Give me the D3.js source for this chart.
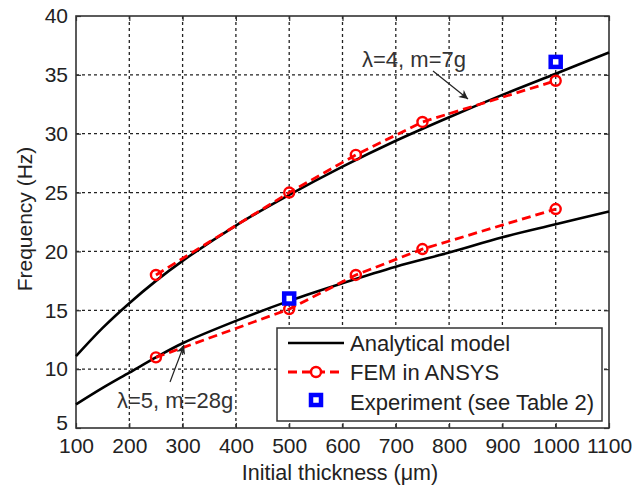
<!DOCTYPE html>
<html>
<head>
<meta charset="utf-8">
<script src="https://cdn.jsdelivr.net/npm/d3@7"></script>
<style>
  html, body { margin: 0; padding: 0; background: #fff; }
  svg { display: block; font-family: "Liberation Sans", Arial, sans-serif; }
</style>
</head>
<body>
<svg id="chart" width="636" height="491"></svg>
<script>
// Thickness grid for the analytical curves (µm)
const thicknessModel = [100, 150, 200, 250, 300, 400, 500, 600, 700, 800, 900, 1000, 1100];
// Analytical model, λ=4, m=7g (Hz)
const modelUpper = [11.1, 13.5, 15.6, 17.5, 19.2, 22.2, 24.8, 27.2, 29.4, 31.4, 33.3, 35.1, 36.9];
// Analytical model, λ=5, m=28g (Hz)
const modelLower = [7.0, 8.4, 9.7, 11.0, 12.2, 14.1, 15.8, 17.3, 18.7, 19.9, 21.2, 22.3, 23.4];

// FEM in ANSYS
const thicknessFem = [250, 500, 625, 750, 1000];
const femUpper = [18.0, 25.0, 28.2, 31.0, 34.5];
const femLower = [11.0, 15.1, 18.0, 20.2, 23.6];

// Experiment (see Table 2)
const thicknessExp = [500, 1000];
const expValues = [16.0, 36.1];

const xTicks = [100, 200, 300, 400, 500, 600, 700, 800, 900, 1000, 1100];
const yTicks = [5, 10, 15, 20, 25, 30, 35, 40];

const svg = d3.select("#chart");
const plotL = 76, plotR = 609, plotT = 16, plotB = 428;

const x = d3.scaleLinear().domain([100, 1100]).range([plotL, plotR]);
const y = d3.scaleLinear().domain([5, 40]).range([plotB, plotT]);

// Dotted grid
const grid = svg.append("g").attr("stroke", "#222").attr("stroke-width", 1.3)
  .attr("stroke-dasharray", "3,3");
grid.selectAll("line.gx").data(xTicks.slice(1, -1)).join("line").attr("class", "gx")
  .attr("x1", d => x(d)).attr("x2", d => x(d)).attr("y1", plotT).attr("y2", plotB);
grid.selectAll("line.gy").data(yTicks.slice(1, -1)).join("line").attr("class", "gy")
  .attr("y1", d => y(d)).attr("y2", d => y(d)).attr("x1", plotL).attr("x2", plotR);

// Axes with inward ticks
const axisStyle = g => {
  g.select(".domain").remove();
  g.selectAll(".tick line").attr("stroke", "#333").attr("stroke-width", 1.2);
  g.selectAll(".tick text").attr("fill", "#222").attr("font-size", 21)
    .attr("font-family", "Liberation Sans, Arial, sans-serif");
};
svg.append("g").attr("transform", `translate(0,${plotB})`)
  .call(d3.axisBottom(x).tickValues(xTicks).tickSize(-5).tickPadding(10).tickFormat(d3.format("d")))
  .call(axisStyle);
const yAxisG = svg.append("g").attr("transform", `translate(${plotL},0)`)
  .call(d3.axisLeft(y).tickValues(yTicks).tickSize(-5).tickPadding(8))
  .call(axisStyle);
// lowest label sits just above the corner, clear of the x labels
yAxisG.selectAll(".tick text").filter(d => d === 5).attr("dy", "0.05em");
svg.append("g").attr("transform", `translate(0,${plotT})`)
  .call(d3.axisTop(x).tickValues(xTicks).tickSize(-5).tickFormat(""))
  .call(axisStyle);
svg.append("g").attr("transform", `translate(${plotR},0)`)
  .call(d3.axisRight(y).tickValues(yTicks).tickSize(-5).tickFormat(""))
  .call(axisStyle);

// Frame
svg.append("rect").attr("x", plotL).attr("y", plotT)
  .attr("width", plotR - plotL).attr("height", plotB - plotT)
  .attr("fill", "none").attr("stroke", "#333").attr("stroke-width", 1.6);

// Analytical curves
const modelLine = d3.line().x((d, i) => x(thicknessModel[i])).y(d => y(d)).curve(d3.curveCatmullRom.alpha(0.5));
[modelUpper, modelLower].forEach(s => {
  svg.append("path").attr("d", modelLine(s))
    .attr("fill", "none").attr("stroke", "#000").attr("stroke-width", 2.6);
});

// FEM curves
const femLine = d3.line().x((d, i) => x(thicknessFem[i])).y(d => y(d));
[femUpper, femLower].forEach(s => {
  svg.append("path").attr("d", femLine(s))
    .attr("fill", "none").attr("stroke", "#ff0000").attr("stroke-width", 2.8)
    .attr("stroke-dasharray", "9,5");
  svg.append("g").selectAll("circle").data(s).join("circle")
    .attr("cx", (d, i) => x(thicknessFem[i])).attr("cy", d => y(d)).attr("r", 5)
    .attr("fill", "none").attr("stroke", "#ff0000").attr("stroke-width", 2.4);
});

// Experimental points
svg.append("g").selectAll("rect").data(expValues).join("rect")
  .attr("x", (d, i) => x(thicknessExp[i]) - 5).attr("y", d => y(d) - 5)
  .attr("width", 10).attr("height", 10)
  .attr("fill", "#fff").attr("stroke", "#0000ff").attr("stroke-width", 4.5);

// Annotations
svg.append("defs").append("marker").attr("id", "arrow")
  .attr("viewBox", "0 0 10 10").attr("refX", 10).attr("refY", 5)
  .attr("markerWidth", 11).attr("markerHeight", 9).attr("orient", "auto")
  .attr("markerUnits", "userSpaceOnUse")
  .append("path").attr("d", "M0,0 L10,5 L0,10 L3,5 Z").attr("fill", "#222");
svg.append("text").attr("x", 362).attr("y", 67).attr("font-size", 22).attr("fill", "#333")
  .text("λ=4, m=7g");
svg.append("line").attr("x1", 433).attr("y1", 71).attr("x2", 468).attr("y2", 99)
  .attr("stroke", "#222").attr("stroke-width", 1.2).attr("marker-end", "url(#arrow)");
svg.append("text").attr("x", 117).attr("y", 408).attr("font-size", 22).attr("fill", "#333")
  .text("λ=5, m=28g");
svg.append("line").attr("x1", 170).attr("y1", 382).attr("x2", 184).attr("y2", 345)
  .attr("stroke", "#222").attr("stroke-width", 1.2).attr("marker-end", "url(#arrow)");

// Legend
const lg = svg.append("g");
lg.append("rect").attr("x", 277).attr("y", 328).attr("width", 325).attr("height", 93)
  .attr("fill", "#fff").attr("stroke", "#333").attr("stroke-width", 1.5);
lg.append("line").attr("x1", 288).attr("x2", 344).attr("y1", 343).attr("y2", 343)
  .attr("stroke", "#000").attr("stroke-width", 2.6);
lg.append("line").attr("x1", 288).attr("x2", 344).attr("y1", 372).attr("y2", 372)
  .attr("stroke", "#ff0000").attr("stroke-width", 2.8).attr("stroke-dasharray", "9,5");
lg.append("circle").attr("cx", 316).attr("cy", 372).attr("r", 5)
  .attr("fill", "#fff").attr("stroke", "#ff0000").attr("stroke-width", 2.4);
lg.append("rect").attr("x", 311).attr("y", 395).attr("width", 10).attr("height", 10)
  .attr("fill", "#fff").attr("stroke", "#0000ff").attr("stroke-width", 4.5);
const legendLabels = ["Analytical model", "FEM in ANSYS", "Experiment (see Table 2)"];
lg.selectAll("text").data(legendLabels).join("text")
  .attr("x", 350).attr("y", (d, i) => 343 + i * 29.5).attr("dy", "0.35em")
  .attr("font-size", 22).attr("fill", "#222").text(d => d);

// Axis titles
svg.append("text").attr("x", 340).attr("y", 480)
  .attr("text-anchor", "middle").attr("font-size", 21.5).attr("fill", "#222")
  .text("Initial thickness (μm)");
svg.append("text").attr("transform", `translate(25,219) rotate(-90)`)
  .attr("text-anchor", "middle").attr("dy", "0.35em").attr("font-size", 21).attr("fill", "#222")
  .text("Frequency (Hz)");
</script>
</body>
</html>
